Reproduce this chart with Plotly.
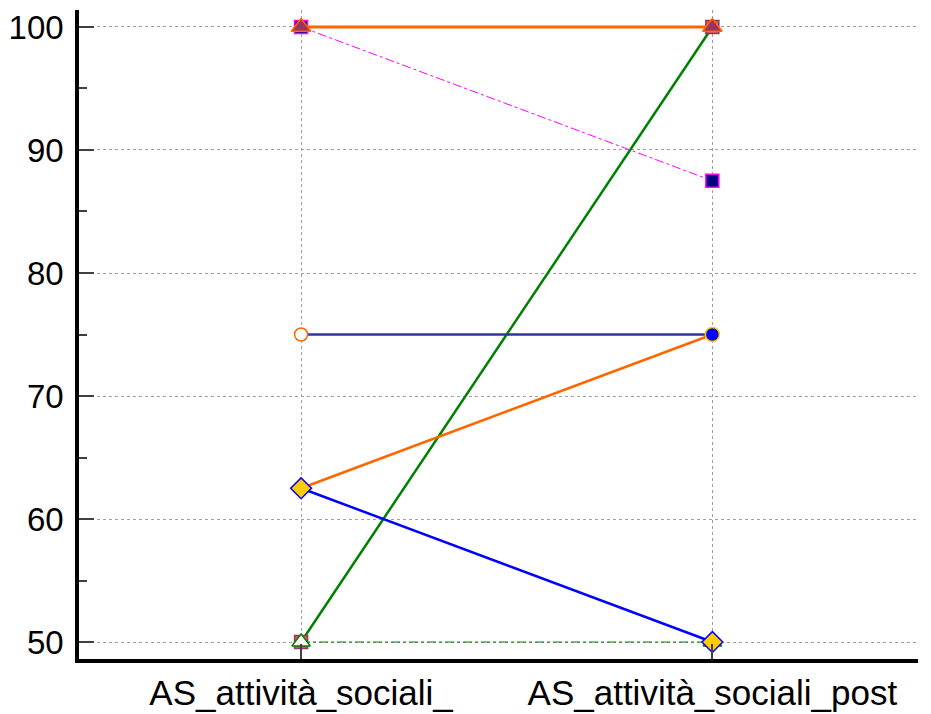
import plotly.graph_objects as go

categories = ["AS_attività_sociali_", "AS_attività_sociali_post"]
pre_values = [50, 100, 100, 50, 75, 62.5, 62.5]
post_values = [100, 87.5, 100, 50, 75, 75, 50]
line_colors = ["#008000", "#FF00FF", "#FF6600", "#008000", "#333399", "#FF6600", "#0000FF"]
line_dashes = ["solid", "dashdot", "solid", "dashdot", "solid", "solid", "solid"]
line_widths = [2.5, 1, 2.8, 1, 2.5, 2.5, 2.5]
marker_symbols = ["square", "square", "triangle-up", "triangle-up", "circle", "circle", "diamond"]
marker_sizes = [13, 13, 17, 16, 13, 14, 16]
marker_fills = ["#E0603A", "#000080", "#993366", "#FFFFFF", "#FFFFFF", "#0000FF", "#FFCC00"]
marker_borders = ["#993366", "#FF00FF", "#FF6600", "#008000", "#FF6600", "#FFCC00", "#0000FF"]

fig = go.Figure()
for i in range(len(pre_values)):
    fig.add_trace(go.Scatter(
        x=categories, y=[pre_values[i], post_values[i]],
        mode="lines+markers",
        line=dict(color=line_colors[i], width=line_widths[i], dash=line_dashes[i]),
        marker=dict(symbol=marker_symbols[i], size=marker_sizes[i], color=marker_fills[i],
                    line=dict(color=marker_borders[i], width=1.5)),
        showlegend=False, cliponaxis=False,
    ))

fig.update_layout(
    width=923, height=706,
    margin=dict(l=71, r=13, t=2, b=55),
    paper_bgcolor="white", plot_bgcolor="white",
    font=dict(family="Liberation Sans, Arial", size=33, color="black"),
)
fig.update_xaxes(
    type="category", range=[-0.54, 1.5],
    showline=True, linecolor="black", linewidth=3.5,
    showgrid=True, gridcolor="#A0A0A0", griddash="dot", gridwidth=1,
    ticks="inside", ticklen=15, tickwidth=2, tickcolor="#404040",
    tickfont=dict(size=35), zeroline=False,
)
fig.update_yaxes(
    range=[48.62, 101.38], tickvals=[50, 60, 70, 80, 90, 100],
    showline=True, linecolor="black", linewidth=3.5,
    showgrid=True, gridcolor="#A0A0A0", griddash="dot", gridwidth=1,
    ticks="inside", ticklen=15, tickwidth=2, tickcolor="#404040",
    minor=dict(ticks="inside", ticklen=8, tickwidth=2, tickcolor="#404040", dtick=5, tick0=0, showgrid=False),
    tickfont=dict(size=33), ticklabelstandoff=5, zeroline=False,
)

fig.write_html("out.html")
